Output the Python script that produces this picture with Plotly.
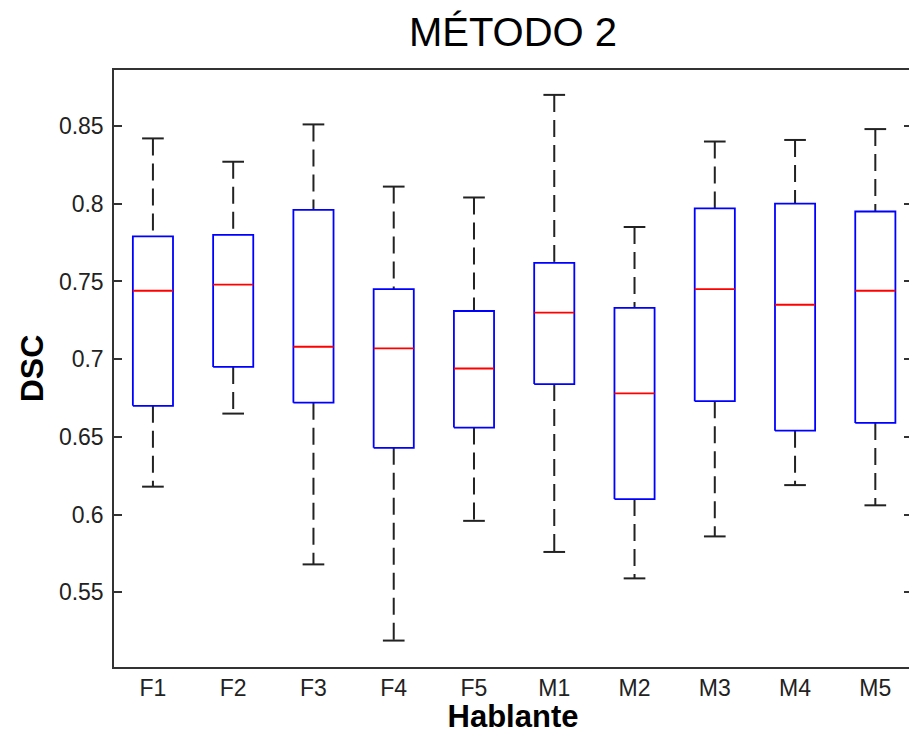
import plotly.graph_objects as go

# ---- data ----
categories = ["F1", "F2", "F3", "F4", "F5", "M1", "M2", "M3", "M4", "M5"]
upper_whisker = [0.842, 0.827, 0.851, 0.811, 0.804, 0.870, 0.785, 0.840, 0.841, 0.848]
q3 = [0.779, 0.780, 0.796, 0.745, 0.731, 0.762, 0.733, 0.797, 0.800, 0.795]
median = [0.744, 0.748, 0.708, 0.707, 0.694, 0.730, 0.678, 0.745, 0.735, 0.744]
q1 = [0.670, 0.695, 0.672, 0.643, 0.656, 0.684, 0.610, 0.673, 0.654, 0.659]
lower_whisker = [0.618, 0.665, 0.568, 0.519, 0.596, 0.576, 0.559, 0.586, 0.619, 0.606]
y_ticks = [0.55, 0.6, 0.65, 0.7, 0.75, 0.8, 0.85]

# ---- styling ----
BOX_HALF = 0.25
CAP_HALF = 0.135
BLUE = "#0000ff"
RED = "#ff0000"
WHISK = "#222222"
AX = "#333333"
FONT = "Liberation Sans, Arial, sans-serif"

pos = list(range(1, len(categories) + 1))

box_x, box_y = [], []
med_x, med_y = [], []
wu_x, wu_y, wl_x, wl_y = [], [], [], []
cap_x, cap_y = [], []
for p, hi, a3, m, a1, lo in zip(pos, upper_whisker, q3, median, q1, lower_whisker):
    box_x += [p - BOX_HALF, p + BOX_HALF, p + BOX_HALF, p - BOX_HALF, p - BOX_HALF, None]
    box_y += [a1, a1, a3, a3, a1, None]
    med_x += [p - BOX_HALF, p + BOX_HALF, None]
    med_y += [m, m, None]
    wu_x += [p, p, None]
    wu_y += [hi, a3, None]
    wl_x += [p, p, None]
    wl_y += [a1, lo, None]
    cap_x += [p - CAP_HALF, p + CAP_HALF, None, p - CAP_HALF, p + CAP_HALF, None]
    cap_y += [hi, hi, None, lo, lo, None]

fig = go.Figure()
dash = "17px,8px"
fig.add_trace(go.Scatter(x=wu_x, y=wu_y, mode="lines", line=dict(color=WHISK, width=2, dash=dash),
                         hoverinfo="skip", showlegend=False))
fig.add_trace(go.Scatter(x=wl_x, y=wl_y, mode="lines", line=dict(color=WHISK, width=2, dash=dash),
                         hoverinfo="skip", showlegend=False))
fig.add_trace(go.Scatter(x=cap_x, y=cap_y, mode="lines", line=dict(color=WHISK, width=2),
                         hoverinfo="skip", showlegend=False))
fig.add_trace(go.Scatter(x=box_x, y=box_y, mode="lines", line=dict(color=BLUE, width=1.8),
                         hoverinfo="skip", showlegend=False))
fig.add_trace(go.Scatter(x=med_x, y=med_y, mode="lines", line=dict(color=RED, width=1.8),
                         hoverinfo="skip", showlegend=False))

Y_RANGE = [0.502, 0.886]
# the reference's plot frame runs a few pixels past the right edge of the picture
fig.update_layout(
    width=914, height=734,
    margin=dict(l=114, r=0, t=70, b=67),
    paper_bgcolor="white", plot_bgcolor="white",
    font=dict(family=FONT, color="#222222"),
    title=dict(text="MÉTODO 2", x=0.5, xref="paper", xanchor="center",
               y=1 - 31.5 / 734, yref="container", yanchor="middle",
               font=dict(size=40, color="#000000", family=FONT)),
    xaxis=dict(range=[0.515, 10.457], tickvals=pos, ticktext=categories,
               ticks="", showline=True, mirror=True, linecolor=AX, linewidth=1.5,
               showgrid=False, zeroline=False, tickfont=dict(size=23),
               title=dict(text="<b>Hablante</b>", font=dict(size=31, color="#000000"), standoff=4)),
    yaxis=dict(range=Y_RANGE, tickvals=y_ticks, ticks="inside", ticklen=8, tickwidth=1.5,
               tickcolor=AX, showline=True, mirror="ticks", linecolor=AX, linewidth=1.5,
               showgrid=False, zeroline=False, tickfont=dict(size=23), ticklabelstandoff=4,
               title=dict(text="<b>DSC</b>", font=dict(size=32, color="#000000"), standoff=6)),
)

fig.write_html(
    "out.html",
    config={"displayModeBar": False},
    post_script=(
        "document.documentElement.style.overflow='hidden';"
        "document.body.style.margin='0';"
        "document.body.style.overflow='hidden';"
    ),
)
